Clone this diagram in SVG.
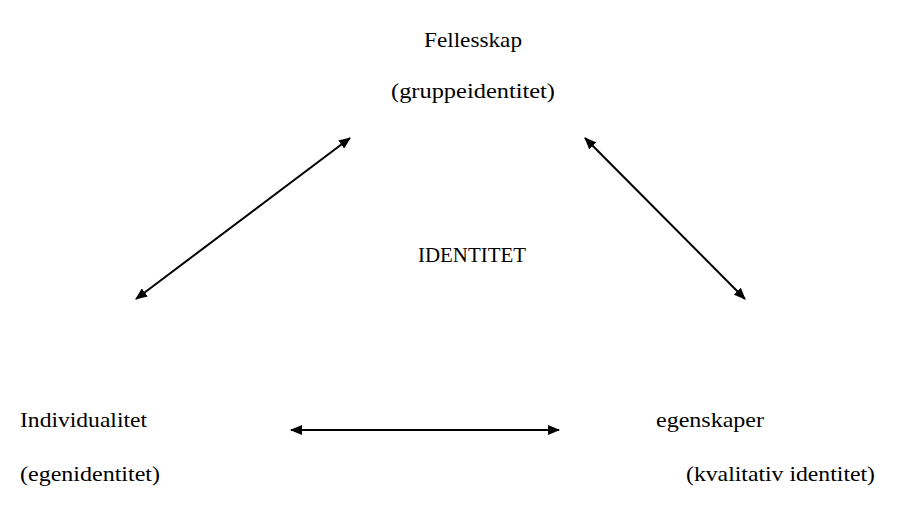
<svg xmlns="http://www.w3.org/2000/svg" width="901" height="525" viewBox="0 0 901 525">
<defs>
<marker id="ah" viewBox="0 0 12 10" refX="11" refY="5" markerWidth="12" markerHeight="10" markerUnits="userSpaceOnUse" orient="auto-start-reverse">
<path d="M0,0 L12,5 L0,10 Z" fill="#000"/>
</marker>
<style>
text{font-family:"Liberation Serif","Times New Roman",serif;font-size:22px;fill:#000}
.c{stroke:#000;stroke-width:2;fill:none;marker-start:url(#ah);marker-end:url(#ah)}
</style>
</defs>
<rect width="901" height="525" fill="#fff"/>
<g id="fellesskap">
<text x="424" y="47" textLength="98" lengthAdjust="spacingAndGlyphs">Fellesskap</text>
<text x="391" y="98" textLength="164" lengthAdjust="spacingAndGlyphs">(gruppeidentitet)</text>
</g>
<g id="identitet">
<text x="418" y="262" textLength="108" lengthAdjust="spacingAndGlyphs">IDENTITET</text>
</g>
<g id="individualitet">
<text x="20" y="427" textLength="127" lengthAdjust="spacingAndGlyphs">Individualitet</text>
<text x="20" y="481" textLength="140" lengthAdjust="spacingAndGlyphs">(egenidentitet)</text>
</g>
<g id="egenskaper">
<text x="656" y="427" textLength="108" lengthAdjust="spacingAndGlyphs">egenskaper</text>
<text x="686" y="481" textLength="189" lengthAdjust="spacingAndGlyphs">(kvalitativ identitet)</text>
</g>
<g id="connectors">
<line class="c" x1="136" y1="299" x2="350" y2="138"/>
<line class="c" x1="585" y1="138" x2="745" y2="299"/>
<line class="c" x1="291" y1="430" x2="559" y2="430"/>
</g>
</svg>
